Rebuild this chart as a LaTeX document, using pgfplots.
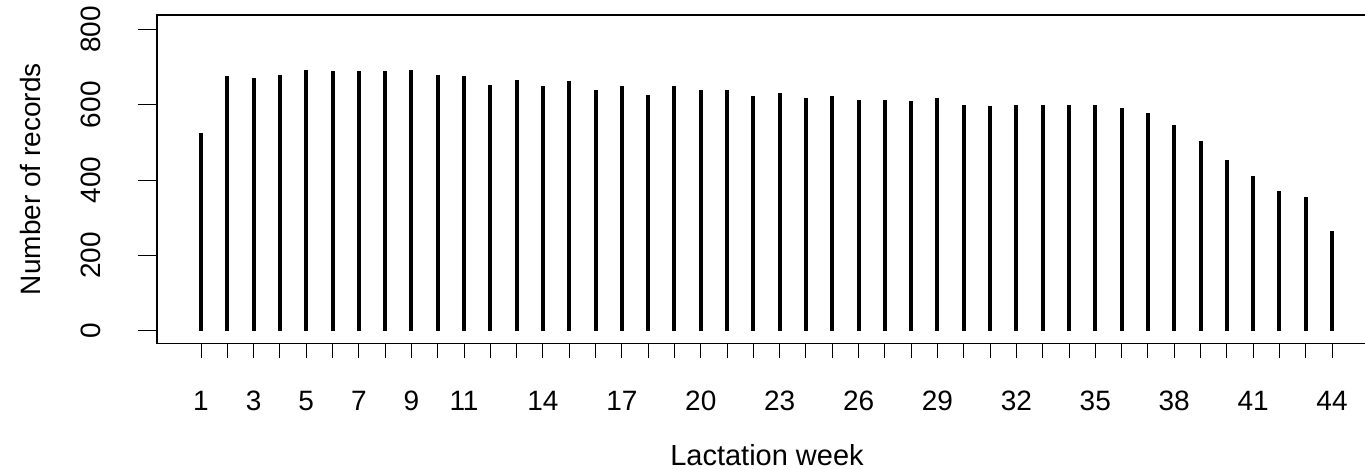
\documentclass[border=0pt]{standalone}
\usepackage{pgfplots}
\pgfplotsset{compat=1.18}
\usepackage{fontspec}
\setmainfont{Liberation Sans}

\begin{document}
\begin{tikzpicture}
\begin{axis}[
  scale only axis,
  width=610pt, height=164.15pt,
  xmin=-0.673, xmax=45.71,
  ymin=-33, ymax=838,
  axis line style={line width=0.6pt},
  tick align=outside,
  xtick pos=bottom, ytick pos=left,
  tick style={black, line width=0.5pt},
  xtick style={/pgfplots/major tick length=7.5pt},
  ytick style={/pgfplots/major tick length=9.5pt},
  xtick={1,...,44},
  xticklabels={1,,3,,5,,7,,9,,11,,,14,,,17,,,20,,,23,,,26,,,29,,,32,,,35,,,38,,,41,,,44},
  ytick={0,200,400,600,800},
  yticklabels={0,200,400,600,800},
  ticklabel style={font=\fontsize{14}{16}\selectfont},
  xticklabel style={anchor=center, yshift=-24.35pt},
  yticklabel style={xshift=-29pt, rotate=90, anchor=center},
  xlabel={Lactation week},
  ylabel={Number of records},
  every axis x label/.style={at={(axis description cs:0.5,-0.3418)}, anchor=center,
    font=\fontsize{14.5}{17}\selectfont},
  every axis y label/.style={at={(axis description cs:-0.1033,0.5)}, rotate=90, anchor=center,
    font=\fontsize{14}{17}\selectfont},
]
% weekly record counts, drawn as vertical spikes from zero
\addplot[ycomb, black, line width=2pt, mark=none] coordinates {
  (1,526) (2,675) (3,671) (4,680) (5,693) (6,689) (7,689) (8,689)
  (9,693) (10,680) (11,675) (12,653) (13,666) (14,649) (15,662) (16,640)
  (17,649) (18,627) (19,649) (20,640) (21,640) (22,622) (23,631) (24,618)
  (25,622) (26,613) (27,613) (28,609) (29,618) (30,600) (31,596) (32,600)
  (33,600) (34,600) (35,600) (36,591) (37,578) (38,547) (39,503) (40,454)
  (41,411) (42,371) (43,354) (44,266)
};
\end{axis}
\pgfresetboundingbox
\path[use as bounding box] (-78.5pt,-63.35pt) rectangle (604pt,171.65pt);
\end{tikzpicture}
\end{document}
